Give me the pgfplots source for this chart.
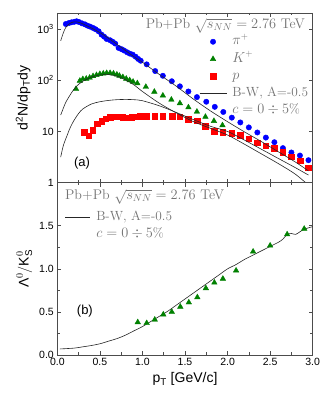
\documentclass[border=0pt]{standalone}
\usepackage{pgfplots}
\pgfplotsset{compat=1.18}
\usepgfplotslibrary{groupplots}
\usetikzlibrary{calc}
\usepackage{amsmath}
\usepackage{fontspec}
\newfontfamily\hv{Liberation Sans}
\definecolor{txtgray}{gray}{0.45}
\definecolor{axgray}{gray}{0.3}
\definecolor{kgreen}{rgb}{0,0.5,0}

\pgfplotsset{
  marklegend/.style={legend image code/.code={%
    \draw[mark repeat=2,mark phase=2,##1] plot coordinates {(0pt,0pt) (13.5pt,0pt) (27pt,0pt)};}},
  linelegend/.style={legend image code/.code={\draw[##1] (0pt,0pt) -- (#1,0pt);}},
}

\begin{document}
\begin{tikzpicture}
\begin{groupplot}[
  group style={group size=1 by 2, vertical sep=0pt, x descriptions at=edge bottom},
  scale only axis, width=255.4pt,
  xmin=0, xmax=3,
  xtick={0,0.5,1,1.5,2,2.5,3}, minor x tick num=1,
  xticklabels={0.0,0.5,1.0,1.5,2.0,2.5,3.0},
  tick align=inside, major tick length=4pt, minor tick length=2.5pt,
  axis line style={axgray, line width=0.6pt},
  every tick/.style={axgray, line width=0.6pt},
  ticklabel style={font=\hv\fontsize{10.5}{12}\selectfont},
  label style={font=\hv\fontsize{14}{16}\selectfont},
  legend style={draw=none, fill=none, inner sep=0pt,
    font=\fontsize{13.3}{15}\selectfont, text=txtgray,
    nodes={inner sep=0.5pt, text height=9pt, text depth=3pt},
    row sep=4.3pt,
    /tikz/every odd column/.append style={column sep=5pt}},
  legend cell align=left,
  clip mode=individual,
]
% ---------- (a) spectra ----------
\nextgroupplot[ymode=log, height=169.7pt,
  ymin=1, ymax=2050, ytick={1,10,100,1000}, yminorticks=false,
  yticklabels={1,10,10\textsuperscript{2},10\textsuperscript{3}},
  ylabel={d\textsuperscript{2}N/dp\textsubscript{T}dy},
  legend style={at={(rel axis cs:0.555,0.87)}, anchor=north west}]
\addplot[only marks, mark=*, mark size=2.7pt, color=blue, marklegend]
coordinates {
(0.10,1250) (0.137,1309) (0.168,1349) (0.20,1380) (0.227,1413) (0.254,1368)
(0.29,1288) (0.325,1230) (0.356,1161) (0.387,1109) (0.42,1047) (0.45,986)
(0.485,902) (0.52,776) (0.55,708) (0.58,638) (0.62,603) (0.65,562)
(0.68,519) (0.72,427) (0.755,403) (0.785,380) (0.82,351) (0.85,331)
(0.885,316) (0.92,288) (0.95,260) (0.98,240) (1.05,204) (1.15,151)
(1.24,122) (1.345,95.5) (1.44,75.9) (1.54,60.3) (1.64,46.8) (1.75,38.0)
(1.85,30.2) (1.95,24.0) (2.05,18.6) (2.15,15.0) (2.25,12.0) (2.35,9.55)
(2.45,7.59) (2.55,6.17) (2.65,4.73) (2.75,3.89) (2.85,3.39) (2.95,2.75)
};
\addlegendentry{$\pi^{+}$}
\addplot[only marks, mark=triangle*, mark size=3.2pt, color=kgreen, marklegend]
coordinates {
(0.22,67.6) (0.265,97.7) (0.30,105) (0.34,107) (0.38,112) (0.42,120)
(0.46,126) (0.50,132) (0.54,135) (0.58,138) (0.62,138) (0.66,135)
(0.70,129) (0.73,122) (0.77,115) (0.81,107) (0.85,100) (0.89,93.3)
(0.94,87.1) (1.04,74.1) (1.14,59.6) (1.24,50.1) (1.34,41.7) (1.44,35.5)
(1.54,29.5) (1.64,24.3) (1.74,19.3) (1.84,16.0) (1.94,13.2)
};
\addlegendentry{$K^{+}$}
\addplot[only marks, mark=square*, mark size=2.8pt, color=red, marklegend]
coordinates {
(0.316,9.55) (0.367,8.22) (0.418,10.7) (0.47,14.1) (0.52,15.7) (0.57,17.8)
(0.62,19.1) (0.67,19.5) (0.72,19.3) (0.77,19.1) (0.82,18.6) (0.875,19.1)
(0.925,19.3) (0.975,19.8) (1.05,20.0) (1.145,20.0) (1.24,20.0) (1.35,20.0)
(1.44,19.5) (1.54,17.4) (1.64,16.2) (1.74,12.6) (1.84,10.0) (1.945,9.55)
(2.05,9.33) (2.15,8.51) (2.25,7.24) (2.35,6.03) (2.45,5.25) (2.55,4.68)
(2.65,3.98) (2.75,3.24) (2.85,2.69) (2.95,1.95)
};
\addlegendentry{$p$}
% B-W curves
\addplot[black!85, line width=0.6pt, smooth, linelegend=27pt]
coordinates {
(0.04,589) (0.07,832) (0.10,1072) (0.15,1288) (0.20,1380) (0.25,1349)
(0.30,1259) (0.40,1047) (0.50,851) (0.60,661) (0.70,501) (0.80,380)
(0.90,288) (1.00,224) (1.20,129) (1.40,75.9) (1.60,42.7) (1.80,25.1)
(2.00,15.5) (2.20,9.77) (2.40,6.31) (2.60,3.98) (2.80,2.51) (2.95,1.70)
};
\addlegendentry{B-W, A=-0.5}
\addlegendimage{empty legend}
\addlegendentry{$c=0\div5\%$}
\addplot[black!85, line width=0.6pt, smooth, forget plot]
coordinates {
(0.04,20.9) (0.07,28.2) (0.10,37.2) (0.15,51.3) (0.19,64.6) (0.25,83.2)
(0.30,95.5) (0.40,115) (0.50,126) (0.60,129) (0.70,120) (0.80,102)
(0.90,81.3) (1.00,60.3) (1.20,35.5) (1.40,22.9) (1.60,15.5) (1.80,11.5)
(2.00,8.51) (2.20,5.62) (2.40,3.63) (2.60,2.34) (2.80,1.45) (3.00,0.76)
};
\addplot[black!85, line width=0.6pt, smooth, forget plot]
coordinates {
(0.04,3.16) (0.07,5.25) (0.11,7.94) (0.15,11.7) (0.19,15.8) (0.25,22.4)
(0.30,27.5) (0.40,34.3) (0.50,38.0) (0.60,40.3) (0.70,41.7) (0.80,42.2)
(0.90,41.7) (1.00,39.8) (1.20,31.6) (1.40,23.4) (1.60,17.0) (1.80,12.6)
(2.00,10.0) (2.20,6.76) (2.40,4.47) (2.60,2.95) (2.80,1.95) (2.95,1.41)
};
\node[anchor=east, inner sep=0pt, text=txtgray, font=\fontsize{14}{16}\selectfont]
  at (rel axis cs:0.97,0.925) {Pb+Pb $\sqrt{s_{NN}}=2.76$ TeV};
\node[font=\hv\fontsize{13}{15}\selectfont] at (rel axis cs:0.097,0.116) {(a)};

% ---------- (b) ratio ----------
\nextgroupplot[height=172.3pt,
  ymin=0, ymax=2, ytick={0,0.5,1,1.5}, minor y tick num=1,
  yticklabels={0.0,0.5,1.0,1.5},
  xlabel={p\textsubscript{T} [GeV/c]},
  ylabel={$\text{Λ}^{0}/\text{K}^{0}_{\text{S}}$},
  legend style={at={(rel axis cs:0.03,0.836)}, anchor=north west}]
\addplot[black!85, line width=0.6pt, smooth, linelegend=25pt]
coordinates {
(0.03,0.07) (0.2,0.08) (0.3,0.095) (0.4,0.11) (0.5,0.13) (0.6,0.16)
(0.7,0.19) (0.8,0.23) (0.9,0.28) (1.0,0.33) (1.1,0.39) (1.2,0.45)
(1.3,0.51) (1.4,0.58) (1.5,0.65) (1.6,0.72) (1.7,0.79) (1.8,0.86)
(1.9,0.93) (2.0,1.00) (2.1,1.05) (2.2,1.11) (2.3,1.16) (2.4,1.21)
(2.5,1.26) (2.6,1.31) (2.65,1.345) (2.7,1.40) (2.75,1.41) (2.8,1.40)
(2.85,1.43) (2.9,1.46) (3.0,1.49)
};
\addlegendentry{B-W, A=-0.5}
\addlegendimage{empty legend}
\addlegendentry{$c=0\div5\%$}
\addplot[only marks, mark=triangle*, mark size=3.2pt, color=kgreen]
coordinates {
(0.945,0.38) (1.05,0.37) (1.145,0.41) (1.245,0.47) (1.345,0.50) (1.445,0.56)
(1.545,0.61) (1.645,0.67) (1.745,0.775) (1.845,0.84) (1.945,0.885) (2.10,0.98)
(2.30,1.20) (2.50,1.27) (2.70,1.40) (2.90,1.465)
};
\node[anchor=west, inner sep=0pt, text=txtgray, font=\fontsize{14}{16}\selectfont]
  at (rel axis cs:0.03,0.92) {Pb+Pb $\sqrt{s_{NN}}=2.76$ TeV};
\node[font=\hv\fontsize{13}{15}\selectfont] at (rel axis cs:0.108,0.255) {(b)};
\end{groupplot}
\pgfresetboundingbox
\path[use as bounding box] ($(group c1r1.north west)+(-57.3pt,13pt)$) rectangle ++(332pt,-394pt);
\end{tikzpicture}
\end{document}
